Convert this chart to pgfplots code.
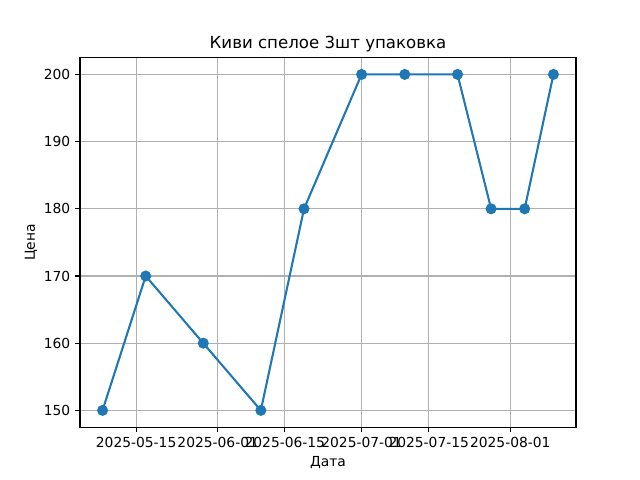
\documentclass[border=0pt]{standalone}
\usepackage{fontspec}
\setmainfont{DejaVu Sans}
\usepackage{pgfplots}
\pgfplotsset{compat=1.18}
\definecolor{mplblue}{HTML}{1F77B4}
\definecolor{mplgrid}{HTML}{B0B0B0}
\begin{document}
\begin{tikzpicture}
\useasboundingbox (0,0) rectangle (6.4in,4.8in);
\begin{axis}[
  at={(0.8in,0.528in)}, anchor=south west,
  scale only axis,
  width=4.96in, height=3.696in,
  xmin=-58.7, xmax=44.7,
  ymin=147.5, ymax=202.5,
  xtick={-47,-30,-16,0,14,31},
  xticklabels={2025-05-15,2025-06-01,2025-06-15,2025-07-01,2025-07-15,2025-08-01},
  ytick={150,160,170,180,190,200},
  /pgf/number format/assume math mode=true,
  tick label style={font=\fontsize{10}{12}\selectfont},
  label style={font=\fontsize{10}{12}\selectfont},
  title style={font=\fontsize{12}{14}\selectfont, yshift=-5.5pt},
  title={Киви спелое 3шт упаковка},
  xlabel={Дата}, ylabel={Цена},
  grid=major,
  major grid style={color=mplgrid, line width=0.8pt},
  axis line style={line width=0.8pt},
  tick align=outside, major tick length=3.5pt,
  tick style={line width=0.8pt, black},
  xtick pos=bottom, ytick pos=left,
  xlabel style={yshift=0pt},
  ylabel style={yshift=-2pt},
]
\addplot[color=mplblue, line width=1.5pt, mark=*, mark size=3.2pt, mark options={fill=mplblue, draw=mplblue}]
coordinates {
(-54,150) (-45,170) (-33,160) (-21,150) (-12,180) (0,200) (9,200) (20,200) (27,180) (34,180) (40,200)
};
\end{axis}
\end{tikzpicture}
\end{document}
